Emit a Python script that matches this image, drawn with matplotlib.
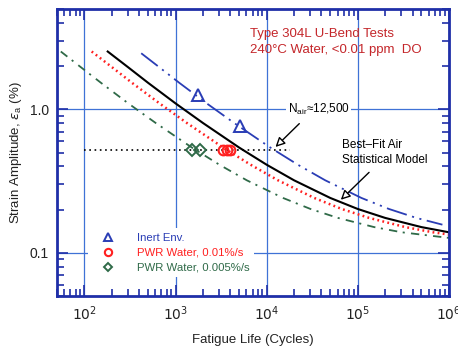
import matplotlib
matplotlib.use("Agg")
import matplotlib.pyplot as plt
from matplotlib.ticker import LogLocator, NullFormatter, FixedLocator, FixedFormatter

plt.rcParams["font.family"] = ["Liberation Sans", "DejaVu Sans"]
plt.rcParams["lines.scale_dashes"] = False

# best-fit air curve (cycles, strain %)
air_n = [180, 300, 500, 1000, 2000, 5000, 1e4, 2e4, 5e4, 1e5, 2e5, 5e5, 1e6]
air_e = [2.53, 1.97, 1.53, 1.10, 0.803, 0.541, 0.411, 0.320, 0.241, 0.202, 0.175, 0.151, 0.139]

# PWR water 0.01 %/s curve
pwr1_n = [120, 200, 333, 667, 1333, 3333, 6667, 13333, 33333, 66667, 133333, 333333, 666667, 1e6]
pwr1_e = [2.53, 1.97, 1.53, 1.10, 0.803, 0.541, 0.411, 0.320, 0.241, 0.202, 0.175, 0.151, 0.139, 0.134]

# PWR water 0.005 %/s curve
pwr2_n = [55, 91, 152, 303, 606, 1515, 3030, 6060, 15150, 30300, 60600, 151500, 303000, 1e6]
pwr2_e = [2.53, 1.97, 1.53, 1.10, 0.803, 0.541, 0.411, 0.320, 0.241, 0.202, 0.175, 0.151, 0.139, 0.127]

# inert environment curve
inert_n = [420, 660, 1100, 2200, 4400, 11000, 22000, 44000, 110000, 220000, 440000, 850000]
inert_e = [2.46, 1.97, 1.53, 1.10, 0.803, 0.541, 0.411, 0.320, 0.241, 0.202, 0.175, 0.157]

# test data
inert_pts_n = [1745, 5050]
inert_pts_e = [1.25, 0.76]
pwr1_pts_n = [3350, 3650, 3950]
pwr1_pts_e = [0.52, 0.52, 0.52]
pwr2_pts_n = [1500, 1835]
pwr2_pts_e = [0.52, 0.52]

ref_n = [100, 18000]
ref_e = [0.52, 0.52]

x_ticks = [1e2, 1e3, 1e4, 1e5, 1e6]
x_labels = ["$10^2$", "$10^3$", "$10^4$", "$10^5$", "$10^6$"]
y_ticks = [0.1, 1.0]
y_labels = ["0.1", "1.0"]

spine_c = "#1f2fa8"
grid_c = "#3f72d6"
blue_c = "#2a3db5"
red_c = "#ff2020"
green_c = "#2f6a48"
title_c = "#c4262a"

fig = plt.figure(figsize=(4.58, 3.49), dpi=100)
ax = fig.add_axes([0.1245, 0.152, 0.8555, 0.822])
ax.set_xscale("log")
ax.set_yscale("log")
ax.set_xlim(50, 1e6)
ax.set_ylim(0.05, 5)

ax.grid(True, which="major", color=grid_c, lw=0.9)
for s in ax.spines.values():
    s.set_color(spine_c)
    s.set_linewidth(2)

ax.xaxis.set_major_locator(FixedLocator(x_ticks))
ax.xaxis.set_major_formatter(FixedFormatter(x_labels))
ax.xaxis.set_minor_locator(LogLocator(base=10, subs=range(2, 10)))
ax.xaxis.set_minor_formatter(NullFormatter())
ax.yaxis.set_major_locator(FixedLocator(y_ticks))
ax.yaxis.set_major_formatter(FixedFormatter(y_labels))
ax.yaxis.set_minor_locator(LogLocator(base=10, subs=range(2, 10)))
ax.yaxis.set_minor_formatter(NullFormatter())
ax.tick_params(which="both", direction="in", top=True, right=True, color=spine_c,
               labelsize=10, labelcolor="#222222")
ax.tick_params(which="major", length=8, width=1.2, pad=6)
ax.tick_params(which="minor", length=5, width=1.2)

ax.plot(pwr2_n, pwr2_e, color=green_c, lw=1.3, ls=(0, (6, 4, 1.5, 4.5)))
ax.plot(pwr1_n, pwr1_e, color=red_c, lw=1.8, ls=(0, (1.3, 2.4)))
ax.plot(air_n, air_e, color="black", lw=1.5)
ax.plot(inert_n, inert_e, color=blue_c, lw=1.3, ls=(0, (15, 4, 1.5, 4, 1.5, 4)))
ax.plot(ref_n, ref_e, color="black", lw=1.2, ls=(0, (1.2, 2.6)))

ax.plot(inert_pts_n, inert_pts_e, ls="none", marker="^", ms=8, mfc="none", mec=blue_c, mew=1.4,
        label="Inert Env.")
ax.plot(pwr1_pts_n, pwr1_pts_e, ls="none", marker="o", ms=7, mfc="none", mec=red_c, mew=1.5,
        label="PWR Water, 0.01%/s")
ax.plot(pwr2_pts_n, pwr2_pts_e, ls="none", marker="D", ms=6, mfc="none", mec=green_c, mew=1.4,
        label="PWR Water, 0.005%/s")

leg = ax.legend(loc="upper left", bbox_to_anchor=(0.065, 0.255), frameon=True, fontsize=8.2,
                handlelength=2.6, handletextpad=1.3, borderpad=0.4, labelspacing=0.43,
                markerscale=0.75, labelcolor=[blue_c, red_c, green_c])
leg.get_frame().set_facecolor("white")
leg.get_frame().set_edgecolor("none")
leg.get_frame().set_alpha(1)

ax.text(6500, 3.34, "Type 304L U-Bend Tests", color=title_c, fontsize=9.5, va="center")
ax.text(6500, 2.58, "240°C Water, <0.01 ppm  DO", color=title_c, fontsize=9.5, va="center")

ax.text(1.7e4, 1.0, r"N$_{\mathregular{air}}$≈12,500", fontsize=8.5, va="center", ha="left",
        bbox=dict(fc="white", ec="none", pad=1))
ax.annotate("", xy=(1.19e4, 0.53), xytext=(2.4e4, 0.82),
            arrowprops=dict(arrowstyle="-|>", fc="white", ec="black", lw=1, mutation_scale=14))
ax.text(6.7e4, 0.5, "Best\u2013Fit Air\nStatistical Model", fontsize=8.5, va="center", ha="left",
        linespacing=1.3)
ax.annotate("", xy=(6.2e4, 0.227), xytext=(1.4e5, 0.375),
            arrowprops=dict(arrowstyle="-|>", fc="white", ec="black", lw=1, mutation_scale=14))

ax.set_xlabel("Fatigue Life (Cycles)", fontsize=9.5, color="#222222", labelpad=8)
ax.set_ylabel(r"Strain Amplitude, $\epsilon_\mathregular{a}$ (%)", fontsize=9.5, color="#222222",
              labelpad=4)

fig.savefig("out.png", dpi=100, facecolor="white")
